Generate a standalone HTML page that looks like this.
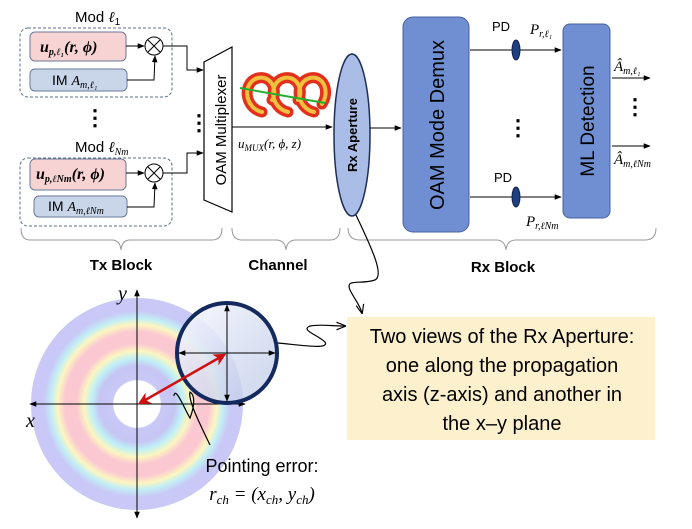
<!DOCTYPE html>
<html><head><meta charset="utf-8"><style>
body{margin:0;background:#fff}
svg{display:block}
text{font-family:"Liberation Sans",sans-serif}
.m{font-family:"Liberation Serif",serif;font-style:italic}
</style></head><body>
<svg width="692" height="529" viewBox="0 0 692 529" xmlns="http://www.w3.org/2000/svg">
<defs>
<marker id="a" viewBox="0 0 10 10" refX="9" refY="5" markerWidth="7" markerHeight="7" orient="auto-start-reverse"><path d="M0,1 L10,5 L0,9z" fill="#000"/></marker>
<marker id="r" viewBox="0 0 10 10" refX="8" refY="5" markerWidth="5" markerHeight="5" orient="auto-start-reverse"><path d="M0,0 L10,5 L0,10 L3,5z" fill="#d01010"/></marker>
<marker id="o" viewBox="0 0 10 10" refX="9" refY="5" markerWidth="8" markerHeight="8" orient="auto"><path d="M0,1 L10,5 L0,9" fill="none" stroke="#000" stroke-width="1.2"/></marker>
<radialGradient id="rings" cx="137" cy="404" r="106" gradientUnits="userSpaceOnUse">
<stop offset="0.22" stop-color="#fff"/><stop offset="0.23" stop-color="#c9c8f6"/><stop offset="0.36" stop-color="#c6c6f4"/><stop offset="0.43" stop-color="#bff0f6"/><stop offset="0.5" stop-color="#fbf6c0"/><stop offset="0.57" stop-color="#fbc8d2"/><stop offset="0.68" stop-color="#fbc8d2"/><stop offset="0.75" stop-color="#fbf6c0"/><stop offset="0.81" stop-color="#c2eef6"/><stop offset="0.88" stop-color="#c9c8f6"/><stop offset="1" stop-color="#c9c8f6"/>
</radialGradient>
<linearGradient id="ap" x1="0" y1="0" x2="1" y2="1"><stop offset="0" stop-color="#fbfbff" stop-opacity="0.95"/><stop offset="1" stop-color="#b8c6e6" stop-opacity="0.7"/></linearGradient>
</defs>

<!-- Tx -->
<text x="75" y="22" font-size="15">Mod <tspan class="m">ℓ</tspan><tspan font-size="10" dy="3">1</tspan></text>
<rect x="20" y="28" width="152" height="69" rx="8" fill="none" stroke="#5a6d8f" stroke-dasharray="3,2"/>
<rect x="30" y="32" width="96" height="29" rx="5" fill="#f8d3d3" stroke="#6a7a98"/>
<text x="40" y="52" class="m" font-size="16" font-weight="bold">u<tspan font-size="10" dy="3">p,ℓ₁</tspan><tspan dy="-3">(r, ϕ)</tspan></text>
<rect x="30" y="69" width="97" height="22" rx="5" fill="#c9d6ea" stroke="#6a7a98"/>
<text x="52" y="85" font-size="14">IM <tspan class="m">A</tspan><tspan class="m" font-size="10" dy="3">m,ℓ₁</tspan></text>
<circle cx="154" cy="46" r="9" fill="#fff" stroke="#000"/><path d="M148,40 L160,52 M160,40 L148,52" stroke="#000"/>
<line x1="126" y1="46" x2="144" y2="46" stroke="#000" marker-end="url(#a)"/>
<polyline points="127,80 154,80 155,56" fill="none" stroke="#000" marker-end="url(#a)"/>
<text x="84" y="125" font-size="22" font-weight="bold">⋮</text>
<text x="75" y="152" font-size="15">Mod <tspan class="m">ℓ</tspan><tspan class="m" font-size="10" dy="3">Nm</tspan></text>
<rect x="20" y="158" width="152" height="68" rx="8" fill="none" stroke="#5a6d8f" stroke-dasharray="3,2"/>
<rect x="30" y="159" width="96" height="31" rx="5" fill="#f8d3d3" stroke="#6a7a98"/>
<text x="36" y="179" class="m" font-size="16" font-weight="bold">u<tspan font-size="10" dy="3">p,ℓNm</tspan><tspan dy="-3">(r, ϕ)</tspan></text>
<rect x="34" y="196" width="93" height="21" rx="5" fill="#c9d6ea" stroke="#6a7a98"/>
<text x="48" y="211" font-size="14">IM <tspan class="m">A</tspan><tspan class="m" font-size="10" dy="3">m,ℓNm</tspan></text>
<circle cx="154" cy="173" r="9" fill="#fff" stroke="#000"/><path d="M148,167 L160,179 M160,167 L148,179" stroke="#000"/>
<line x1="126" y1="173" x2="144" y2="173" stroke="#000" marker-end="url(#a)"/>
<polyline points="127,207 154,207 155,183" fill="none" stroke="#000" marker-end="url(#a)"/>
<polyline points="163,46 187,46 187,70 203,70" fill="none" stroke="#000" marker-end="url(#a)"/>
<polyline points="163,173 187,173 187,153 203,153" fill="none" stroke="#000" marker-end="url(#a)"/>
<text x="188" y="130" font-size="22" font-weight="bold">⋮</text>
<polygon points="204,62 232,47 232,212 204,200" fill="#fff" stroke="#000" stroke-width="1.2"/>
<text transform="translate(226,130) rotate(-90)" text-anchor="middle" font-size="15">OAM Multiplexer</text>

<!-- spiral -->
<g fill="none" stroke-linecap="round">
<path d="M262,112 C244,108 242,82 258,78 C272,75 278,92 272,100 M288,112 C270,108 268,82 284,78 C298,75 304,92 298,100 M314,112 C296,108 294,82 310,78 C324,75 330,92 322,104" stroke="#e2301c" stroke-width="11"/>
<path d="M262,112 C244,108 242,82 258,78 C272,75 278,92 272,100 M288,112 C270,108 268,82 284,78 C298,75 304,92 298,100 M314,112 C296,108 294,82 310,78 C324,75 330,92 322,104" stroke="#f0c040" stroke-width="4"/>
</g>
<line x1="240" y1="88" x2="325" y2="103" stroke="#22b030" stroke-width="2"/>
<line x1="232" y1="127" x2="332" y2="127" stroke="#000" marker-end="url(#a)"/>
<text x="238" y="148" class="m" font-size="13">u<tspan font-size="9" dy="3">MUX</tspan><tspan dy="-3">(r, ϕ, z)</tspan></text>

<!-- Rx -->
<ellipse cx="352" cy="135" rx="18" ry="81" fill="#a9bde6" stroke="#1e2f55" stroke-width="1.5"/>
<text transform="translate(357,135) rotate(-90)" text-anchor="middle" font-size="13" font-weight="bold">Rx Aperture</text>
<line x1="370" y1="128" x2="401" y2="128" stroke="#000" marker-end="url(#a)"/>
<rect x="403" y="17" width="66" height="215" rx="10" fill="#6f8fd2" stroke="#4a62a0"/>
<text transform="translate(444,125) rotate(-90)" text-anchor="middle" font-size="20">OAM Mode Demux</text>
<line x1="470" y1="50" x2="561" y2="50" stroke="#000" marker-end="url(#a)"/>
<line x1="470" y1="197" x2="561" y2="197" stroke="#000" marker-end="url(#a)"/>
<ellipse cx="516" cy="50" rx="4" ry="10" fill="#1e3f80" stroke="#0d2050"/>
<ellipse cx="516" cy="197" rx="4" ry="10" fill="#1e3f80" stroke="#0d2050"/>
<text x="492" y="31" font-size="13">PD</text>
<text x="494" y="182" font-size="13">PD</text>
<text x="530" y="34" class="m" font-size="15">P<tspan font-size="10" dy="3">r,ℓ₁</tspan></text>
<text x="526" y="226" class="m" font-size="15">P<tspan font-size="10" dy="3">r,ℓNm</tspan></text>
<text x="507" y="135" font-size="22" font-weight="bold">⋮</text>
<rect x="563" y="24" width="47" height="194" rx="7" fill="#6f8fd2" stroke="#4a62a0"/>
<text transform="translate(594,121) rotate(-90)" text-anchor="middle" font-size="19">ML Detection</text>
<line x1="612" y1="78" x2="650" y2="78" stroke="#000" marker-end="url(#a)"/>
<line x1="612" y1="146" x2="650" y2="146" stroke="#000" marker-end="url(#a)"/>
<text x="614" y="71" class="m" font-size="15">Â<tspan font-size="10" dy="3">m,ℓ₁</tspan></text>
<text x="614" y="164" class="m" font-size="15">Â<tspan font-size="10" dy="3">m,ℓNm</tspan></text>
<text x="624" y="114" font-size="22" font-weight="bold">⋮</text>

<!-- braces -->
<g fill="none" stroke="#999" stroke-width="1">
<path d="M21,228 Q21,240 30,240 L112,240 Q120,240 121,250 Q122,240 130,240 L212,240 Q222,240 222,228"/>
<path d="M232,228 Q232,240 242,240 L276,240 Q285,240 286,250 Q287,240 296,240 L330,240 Q340,240 340,228"/>
<path d="M348,228 Q348,240 360,240 L496,240 Q505,240 506,250 Q507,240 516,240 L645,240 Q656,240 656,228"/>
</g>
<text x="121" y="270" text-anchor="middle" font-size="15" font-weight="bold">Tx Block</text>
<text x="278" y="270" text-anchor="middle" font-size="15" font-weight="bold">Channel</text>
<text x="503" y="272" text-anchor="middle" font-size="15" font-weight="bold">Rx Block</text>

<!-- squiggles to box -->
<path d="M356,215 C370,245 385,275 375,280 C360,285 345,278 350,290 C355,300 360,305 362,313" fill="none" stroke="#000" stroke-width="1.2" marker-end="url(#o)"/>
<path d="M278,343 C300,345 330,350 325,342 C318,335 300,330 310,326 C320,324 330,326 345,326" fill="none" stroke="#000" stroke-width="1.2" marker-end="url(#o)"/>
<rect x="347" y="317" width="308" height="123" fill="#fdf0cc"/>
<g font-size="20" text-anchor="middle">
<text x="502" y="343">Two views of the Rx Aperture:</text>
<text x="502" y="372">one along the propagation</text>
<text x="502" y="401">axis (z-axis) and another in</text>
<text x="502" y="430">the x–y plane</text>
</g>

<!-- bottom -->
<circle cx="137" cy="404" r="106" fill="url(#rings)"/>
<line x1="137" y1="404" x2="137" y2="290" stroke="#000" marker-end="url(#a)"/>
<line x1="137" y1="404" x2="137" y2="518" stroke="#000" marker-end="url(#a)"/>
<line x1="137" y1="404" x2="30" y2="404" stroke="#000" marker-end="url(#a)"/>
<line x1="137" y1="404" x2="245" y2="404" stroke="#000" marker-end="url(#a)"/>
<text x="118" y="300" class="m" font-size="20">y</text>
<text x="26" y="427" class="m" font-size="20">x</text>
<circle cx="227" cy="353" r="50" fill="url(#ap)" stroke="#142a5e" stroke-width="4"/>
<line x1="227" y1="353" x2="227" y2="305" stroke="#000" marker-end="url(#a)"/>
<line x1="227" y1="353" x2="227" y2="401" stroke="#000" marker-end="url(#a)"/>
<line x1="227" y1="353" x2="179" y2="353" stroke="#000" marker-end="url(#a)"/>
<line x1="227" y1="353" x2="275" y2="353" stroke="#000" marker-end="url(#a)"/>
<line x1="140" y1="403" x2="224" y2="355" stroke="#d01010" stroke-width="2.5" marker-start="url(#r)" marker-end="url(#r)"/>
<path d="M174,396 C175,385 185,410 190,418 C195,405 195,395 190,392 C188,400 198,420 210,445" fill="none" stroke="#000" stroke-width="1.2"/>
<text x="262" y="472" text-anchor="middle" font-size="18">Pointing error:</text>
<text x="262" y="500" text-anchor="middle" class="m" font-size="19">r<tspan font-size="13" dy="4">ch</tspan><tspan dy="-4"> = (x</tspan><tspan font-size="13" dy="4">ch</tspan><tspan dy="-4">, y</tspan><tspan font-size="13" dy="4">ch</tspan><tspan dy="-4">)</tspan></text>
</svg>
</body></html>
